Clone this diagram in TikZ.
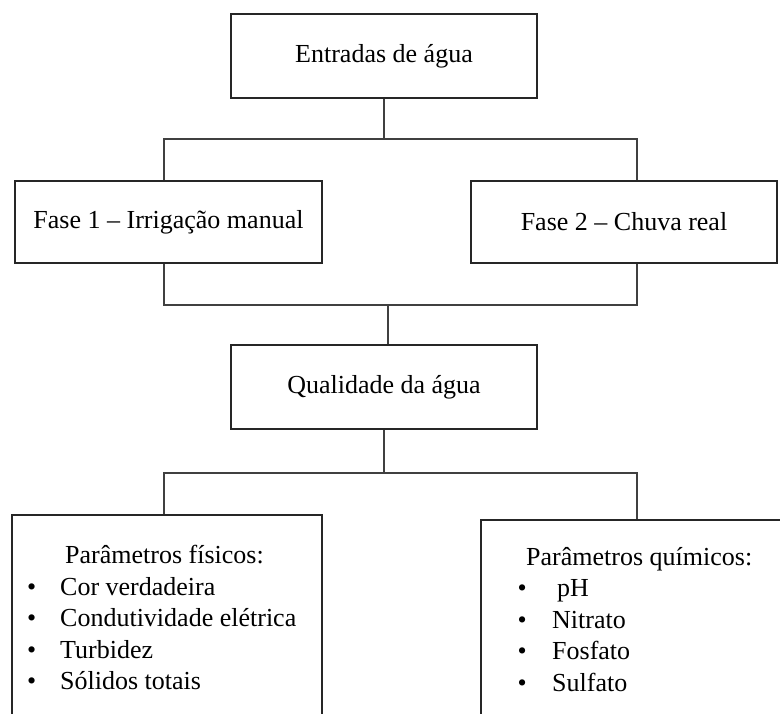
\documentclass[tikz,border=0pt]{standalone}
\usepackage{fontspec}
\setmainfont{Liberation Serif}
\usepackage{tikz}

\begin{document}
\begin{tikzpicture}[
  x=1pt, y=-1pt,
  box/.style={rectangle, draw=black!85, line width=2.2pt, minimum width=306pt, minimum height=84pt, text centered, inner sep=0pt, font=\fontsize{26}{31.5}\selectfont},
  listbox/.style={rectangle, draw=black!85, line width=2.2pt, minimum width=310pt, minimum height=226pt},
  listtext/.style={anchor=north west, align=left, inner sep=0pt, font=\fontsize{26}{31.5}\selectfont},
  line/.style={draw=black!75, line width=1.8pt}
]
\useasboundingbox[fill=white] (0,0) rectangle (780,714);
\clip (0,0) rectangle (780,714);

% Boxes
\node (entradas) [box] at (384,56) {Entradas de água};
\node (fase1) [box, minimum width=307pt, minimum height=82pt] at (168.5,222) {Fase 1 – Irrigação manual};
\node (fase2) [box, minimum height=82pt] at (624,222) {Fase 2 – Chuva real};
\node (qualidade) [box] at (384,387) {Qualidade da água};

% Parameter lists (cut by the lower edge)
\node (boxfis) [listbox] at (167,628) {};
\node (boxquim) [listbox] at (636,633) {};
\node (txtfis) [listtext] at (27,545) {\hspace*{38pt}Parâmetros físicos:\\
  \makebox[33pt][l]{\textbullet}Cor verdadeira\\
  \makebox[33pt][l]{\textbullet}Condutividade elétrica\\
  \makebox[33pt][l]{\textbullet}Turbidez\\
  \makebox[33pt][l]{\textbullet}Sólidos totais};
\node (txtquim) [listtext] at (517.5,547) {\hspace*{8.5pt}Parâmetros químicos:\\
  \makebox[39.5pt][l]{\textbullet}pH\\
  \makebox[34.5pt][l]{\textbullet}Nitrato\\
  \makebox[34.5pt][l]{\textbullet}Fosfato\\
  \makebox[34.5pt][l]{\textbullet}Sulfato};

% Connectors
\coordinate (split) at (384,139);
\coordinate (merge) at (388,305);
\coordinate (split2) at (384,473);
\draw [line] (entradas.south) -- (split);
\draw [line] ([xshift=-4.5pt]fase1.north) |- (split) -| ([xshift=13pt]fase2.north);
\draw [line] ([xshift=-4.5pt]fase1.south) |- (merge) -| ([xshift=13pt]fase2.south);
\draw [line] (merge) -- (merge |- qualidade.north);
\draw [line] (qualidade.south) -- (split2);
\draw [line] ([xshift=-3pt]boxfis.north) |- (split2) -| ([xshift=1pt]boxquim.north);

\end{tikzpicture}
\end{document}
